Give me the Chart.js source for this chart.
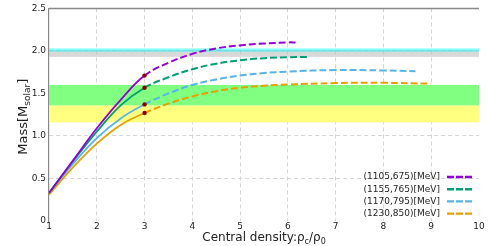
<!DOCTYPE html>
<html>
<head>
<meta charset="utf-8">
<script src="https://cdn.jsdelivr.net/npm/chart.js@4.4.1/dist/chart.umd.min.js"></script>
<style>
html, body { margin: 0; padding: 0; background: #fff; }
</style>
</head>
<body>
<canvas id="c" width="490" height="246"></canvas>
<script>
// data
const seriesLabels = ["(1105,675)[MeV]", "(1155,765)[MeV]", "(1170,795)[MeV]", "(1230,850)[MeV]"];

const dens1105 = [1, 1.5, 2, 2.5, 3, 3.5, 4, 4.5, 5, 5.5, 6, 6.18];
const mass1105 = [0.33, 0.71, 1.09, 1.425, 1.71, 1.86, 1.965, 2.03, 2.065, 2.087, 2.10, 2.10];

const dens1155 = [1, 1.5, 2, 2.5, 3, 3.5, 4, 4.5, 5, 5.5, 6, 6.42];
const mass1155 = [0.33, 0.70, 1.05, 1.36, 1.567, 1.69, 1.785, 1.85, 1.89, 1.915, 1.925, 1.93];

const dens1170 = [1, 1.5, 2, 2.5, 3, 3.5, 4, 4.5, 5, 5.5, 6, 7, 8, 8.67];
const mass1170 = [0.33, 0.67, 0.975, 1.206, 1.371, 1.50, 1.60, 1.665, 1.71, 1.74, 1.757, 1.775, 1.77, 1.762];

const dens1230 = [1, 1.5, 2, 2.5, 3, 3.5, 4, 4.5, 5, 5.5, 6, 7, 8, 9];
const mass1230 = [0.31, 0.63, 0.91, 1.13, 1.27, 1.38, 1.465, 1.527, 1.567, 1.59, 1.605, 1.622, 1.625, 1.615];

// observed mass bands [low, high]
const bandGray = [1.93, 2.01];
const bandCyan = [1.99, 2.03];
const bandGreen = [1.36, 1.60];
const bandYellow = [1.16, 1.36];

const xTicks = [1, 2, 3, 4, 5, 6, 7, 8, 9, 10];
const yTicks = [0, 0.5, 1, 1.5, 2, 2.5];
const dashFrom = 3;   // solid below, dashed above

const colors = ["#9400d3", "#009e73", "#56b4e9", "#e69f00"];
const FONT = "DejaVu Sans";

function pts(xs, ys) {
    return xs.map((x, i) => ({ x: x, y: ys[i] }));
}

function makeSet(label, xs, ys, color) {
    return {
        label: label,
        data: pts(xs, ys),
        borderColor: color,
        borderWidth: 1.8,
        tension: 0.4,
        segment: {
            borderDash: ctx => ctx.p0.parsed.x >= dashFrom ? [7, 3] : undefined,
            borderWidth: ctx => ctx.p0.parsed.x >= dashFrom ? 2 : 1.8
        },
        pointRadius: ctx => (ctx.raw && ctx.raw.x === dashFrom) ? 2.2 : 0,
        pointBackgroundColor: "#8b0000",
        pointBorderColor: "#8b0000",
        pointBorderWidth: 0
    };
}

// bands, frame top, titles and legend
const decor = {
    id: "decor",
    beforeDatasetsDraw(chart) {
        const { ctx, chartArea: a, scales: { y } } = chart;
        const band = (r, fill) => {
            const y1 = y.getPixelForValue(r[1]);
            const y0 = y.getPixelForValue(r[0]);
            ctx.fillStyle = fill;
            ctx.fillRect(a.left, y1, a.right - a.left, y0 - y1);
        };
        ctx.save();
        band(bandYellow, "rgba(255,255,128,1)");
        band(bandGreen, "rgba(128,255,128,1)");
        band(bandGray, "rgba(190,190,190,0.6)");
        band(bandCyan, "rgba(0,255,255,0.45)");
        ctx.restore();
    },
    afterDraw(chart) {
        const { ctx, chartArea: a } = chart;
        ctx.save();
        // top frame line
        ctx.strokeStyle = "#888";
        ctx.lineWidth = 1.5;
        ctx.beginPath();
        ctx.moveTo(a.left, a.top);
        ctx.lineTo(a.right, a.top);
        ctx.stroke();

        ctx.fillStyle = "#222";
        ctx.textBaseline = "alphabetic";

        // x title with subscripts
        const big = "12px " + FONT, small = "8px " + FONT;
        const parts = [["Central density:\u03c1", big, 0], ["c", small, 3], ["/\u03c1", big, 0], ["0", small, 3]];
        let w = 0;
        parts.forEach(p => { ctx.font = p[1]; w += ctx.measureText(p[0]).width; });
        let x = (a.left + a.right) / 2 - w / 2;
        parts.forEach(p => {
            ctx.font = p[1];
            ctx.textAlign = "left";
            ctx.fillText(p[0], x, 241 + p[2]);
            x += ctx.measureText(p[0]).width;
        });

        // y title, rotated
        const yb = "13px " + FONT, ys = "9px " + FONT;
        const yparts = [["Mass[M", yb, 0], ["solar", ys, 3], ["]", yb, 0]];
        let yw = 0;
        yparts.forEach(p => { ctx.font = p[1]; yw += ctx.measureText(p[0]).width; });
        ctx.translate(27, (a.top + a.bottom) / 2 + 2 + yw / 2);
        ctx.rotate(-Math.PI / 2);
        let t = 0;
        yparts.forEach(p => {
            ctx.font = p[1];
            ctx.fillText(p[0], t, p[2]);
            t += ctx.measureText(p[0]).width;
        });
        ctx.setTransform(1, 0, 0, 1, 0, 0);

        // legend, bottom right inside the plot
        ctx.font = "9px " + FONT;
        ctx.textAlign = "right";
        ctx.textBaseline = "middle";
        chart.data.datasets.forEach((ds, i) => {
            const ly = 177 + i * 12.2;
            ctx.fillStyle = "#222";
            ctx.fillText(ds.label, 440, ly);
            ctx.strokeStyle = ds.borderColor;
            ctx.lineWidth = 2.4;
            ctx.setLineDash([7, 2]);
            ctx.beginPath();
            ctx.moveTo(447, ly);
            ctx.lineTo(472, ly);
            ctx.stroke();
        });
        ctx.restore();
    }
};

new Chart(document.getElementById("c"), {
    type: "line",
    data: {
        datasets: [
            makeSet(seriesLabels[0], dens1105, mass1105, colors[0]),
            makeSet(seriesLabels[1], dens1155, mass1155, colors[1]),
            makeSet(seriesLabels[2], dens1170, mass1170, colors[2]),
            makeSet(seriesLabels[3], dens1230, mass1230, colors[3])
        ]
    },
    options: {
        responsive: false,
        animation: false,
        layout: { padding: { top: 4, right: 11, left: 0, bottom: 0 } },
        plugins: { legend: { display: false }, tooltip: { enabled: false } },
        scales: {
            x: {
                type: "linear",
                min: 1, max: 10,
                afterFit: s => { s.height = 25; },
                afterBuildTicks: s => { s.ticks = xTicks.map(v => ({ value: v })); },
                grid: {
                    drawTicks: false,
                    color: c => (c.tick && (c.tick.value === 1 || c.tick.value === 10)) ? "transparent" : "#d4d4d4",
                    lineWidth: 1
                },
                border: { display: false, dash: [4, 3] },
                ticks: { padding: 0, color: "#222", font: { family: FONT, size: 9 } }
            },
            y: {
                min: 0, max: 2.5,
                afterFit: s => { s.width = 49; },
                afterBuildTicks: s => { s.ticks = yTicks.map(v => ({ value: v })); },
                grid: {
                    drawTicks: false,
                    color: c => (c.tick && (c.tick.value === 0 || c.tick.value === 2.5)) ? "transparent" : "#d4d4d4",
                    lineWidth: 1
                },
                border: { display: true, color: "#888", width: 1.2, dash: [4, 3] },
                ticks: { padding: 3, color: "#222", font: { family: FONT, size: 9 } }
            }
        }
    },
    plugins: [decor]
});
</script>
</body>
</html>
